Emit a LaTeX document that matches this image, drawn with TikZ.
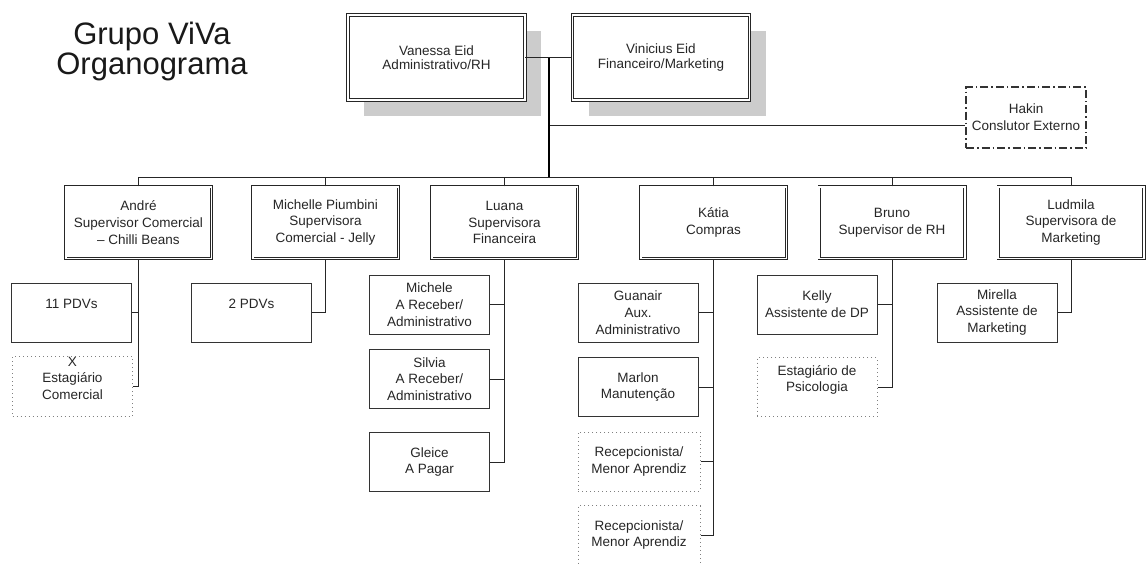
\documentclass[tikz,border=0pt]{standalone}
\usepackage{fontspec}
\setmainfont{Liberation Sans}
\usetikzlibrary{calc,shadows}
\tikzset{
	dono/.style={draw=black!85, line width=0.9pt, double=white, double distance=1.6pt, fill=white,
		align=center, inner sep=0pt, minimum width=177pt, minimum height=85pt, text=black!85,
		font=\fontsize{13.5}{14.5}\selectfont,
		drop shadow={shadow xshift=16pt, shadow yshift=-16pt, fill=black!20, opacity=1}},
	chefe/.style={draw=black!85, line width=0.9pt, double=white, double distance=1.6pt, fill=white,
		align=center, inner sep=0pt, minimum width=145.6pt, minimum height=71.6pt, text=black!85,
		font=\fontsize{13.5}{16.7}\selectfont},
	cargo/.style={draw=black!80, line width=1pt, fill=white, align=center, inner sep=0pt,
		minimum width=120pt, minimum height=59pt, text=black!85, font=\fontsize{13.5}{16.7}\selectfont},
	vaga/.style={cargo, draw=black!50, dash pattern=on 1pt off 3pt},
	externo/.style={cargo, draw=black!80, line width=1.3pt, dash pattern=on 8pt off 3pt on 1.5pt off 3pt,
		minimum height=61pt},
	linha/.style={draw=black!85, line width=1pt},
	tronco/.style={draw=black, line width=1.8pt}
}

\begin{document}
\begin{tikzpicture}[x=1pt, y=-1pt]
			%%%%% START %%%%%
			\useasboundingbox (0, 0) rectangle (1146, 563);
			
			\node[align=center, text=black!90, font=\fontsize{31}{30}\selectfont] (titulo) at (152, 51) {Grupo ViVa\\Organograma};
			
			% diretoria
			\node[dono] (van) at (436.5, 57.5) {Vanessa Eid\\Administrativo/RH};
			\node[dono] (vin) at (661, 57.5) {Vinicius Eid\\Financeiro/Marketing};
			\node[externo] (hak) at (1026, 117.5) {Hakin\\Conslutor Externo};
			
			\coordinate (topo) at ($(van.east)!0.5!(vin.west)$);
			\coordinate (barra) at (549, 177);
			\coordinate (hk) at (549, 125);
			\draw[linha] (van.east) -- (vin.west);
			\draw[linha] (hk) -- (hk -| hak.west);
			\draw[tronco] (topo) -- (topo |- barra);
			
			% supervisores
			\node[chefe] (and) at (138.5, 222.5) {André\\Supervisor Comercial\\– Chilli Beans};
			\node[chefe] (mic) at (325.5, 222.5) {Michelle Piumbini\\Supervisora\\Comercial - Jelly};
			\node[chefe] (lua) at (504.5, 222.5) {Luana\\Supervisora\\Financeira};
			\node[chefe] (kat) at (713.5, 222.5) {Kátia\\Compras};
			\node[chefe] (bru) at (892, 222.5) {Bruno\\Supervisor de RH};
			\node[chefe] (lud) at (1071, 222.5) {Ludmila\\Supervisora de\\Marketing};
			
			\draw[linha] (and.north |- barra) -- (lud.north |- barra);
			\foreach \s in {and, mic, lua, kat, bru, lud}
				\draw[linha] (\s.north) -- (\s.north |- barra);
			
			% equipe
			\node[cargo] (pdv11) at (71.5, 312.5) {11 PDVs\\\mbox{}};
			\node[vaga] (estc) at (72.5, 386.5) {X\\Estagiário\\Comercial\\\mbox{}};
			\node[cargo] (pdv2) at (251.5, 312.5) {2 PDVs\\\mbox{}};
			
			\node[cargo] (mch) at (429.5, 304.5) {Michele\\A Receber/\\Administrativo};
			\node[cargo] (sil) at (429.5, 379) {Silvia\\A Receber/\\Administrativo};
			\node[cargo] (gle) at (429.5, 462) {Gleice\\A Pagar};
			
			\node[cargo] (gua) at (638, 312.5) {Guanair\\Aux.\\Administrativo};
			\node[cargo] (mar) at (638, 387) {Marlon\\Manutenção};
			\node[vaga, minimum width=122pt] (rec1) at (639, 461.5) {Recepcionista/\\Menor Aprendiz};
			\node[vaga, minimum width=122pt] (rec2) at (639, 535) {Recepcionista/\\Menor Aprendiz};
			
			\node[cargo] (kel) at (817, 304.5) {Kelly\\Assistente de DP};
			\node[vaga] (estp) at (817, 387) {Estagiário de\\Psicologia\\\mbox{}};
			
			\node[cargo] (mir) at (997, 312.5) {Mirella\\Assistente de\\Marketing};
			
			\draw[linha] (pdv11.east) -| (and.south);
			\draw[linha] (estc.east) -| (and.south);
			\draw[linha] (pdv2.east) -| (mic.south);
			\draw[linha] (mch.east) -| (lua.south);
			\draw[linha] (sil.east) -| (lua.south);
			\draw[linha] (gle.east) -| (lua.south);
			\draw[linha] (gua.east) -| (kat.south);
			\draw[linha] (mar.east) -| (kat.south);
			\draw[linha] (rec1.east) -| (kat.south);
			\draw[linha] (rec2.east) -| (kat.south);
			\draw[linha] (kel.east) -| (bru.south);
			\draw[linha] (estp.east) -| (bru.south);
			\draw[linha] (mir.east) -| (lud.south);
			
			%%%%% END %%%%%
		\end{tikzpicture}
\end{document}
